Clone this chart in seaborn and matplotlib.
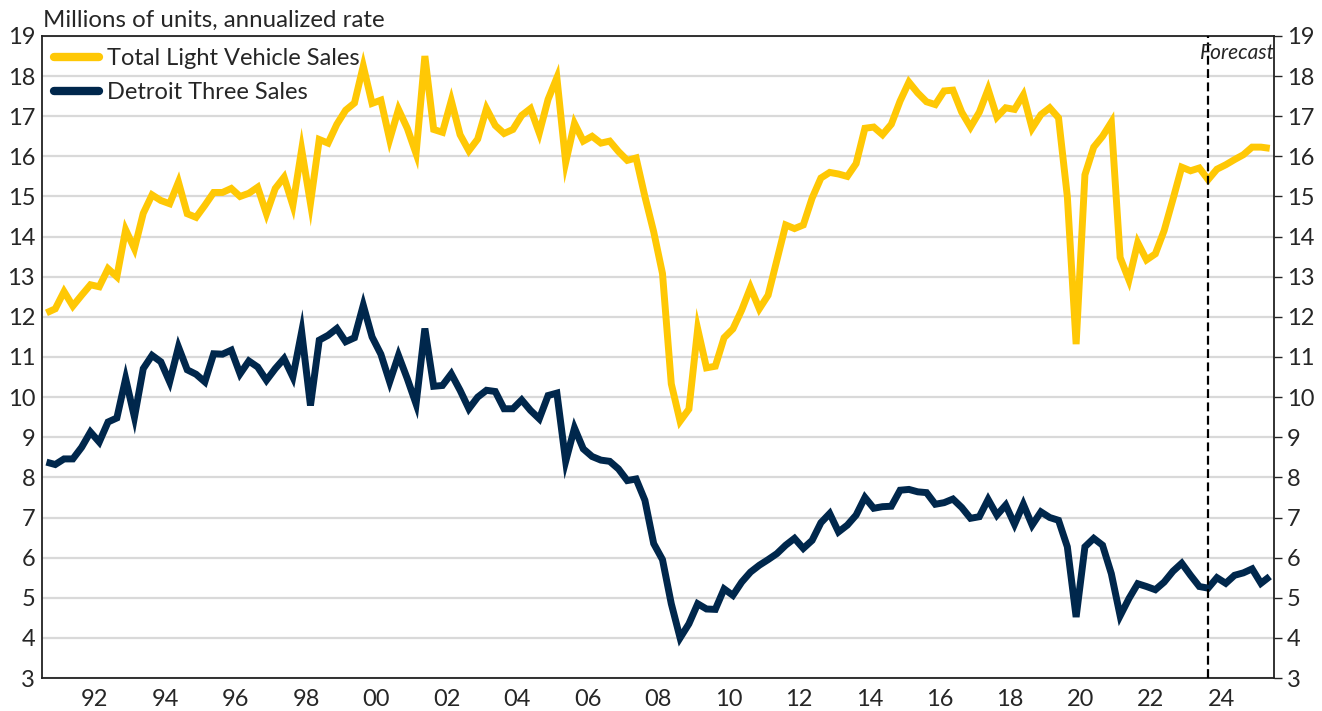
import numpy as np
import pandas as pd
import matplotlib
matplotlib.use("Agg")
import matplotlib.pyplot as plt
import seaborn as sns
from matplotlib.ticker import FixedLocator

# quarterly, 1991Q1 - 2025Q4 (forecast from 2024Q1)
start_year = 1991
forecast_start = 132  # index of 2024Q1

total_sales = [
    12.1, 12.2, 12.63, 12.27, 12.54, 12.8, 12.75, 13.2, 13.0, 14.17,
    13.7, 14.58, 15.04, 14.9, 14.82, 15.36, 14.57, 14.48, 14.78, 15.1,
    15.1, 15.2, 15.0, 15.08, 15.23, 14.57, 15.2, 15.48, 14.78, 16.17,
    14.83, 16.42, 16.33, 16.8, 17.15, 17.33, 18.25, 17.32, 17.4, 16.42,
    17.17, 16.7, 16.07, 18.5, 16.67, 16.6, 17.39, 16.54, 16.14, 16.43,
    17.19, 16.77, 16.57, 16.67, 17.02, 17.19, 16.58, 17.42, 17.96, 15.85,
    16.82, 16.38, 16.5, 16.33, 16.38, 16.12, 15.9, 15.96, 15.0, 14.12,
    13.08, 10.33, 9.4, 9.7, 11.7, 10.73, 10.77, 11.48, 11.7, 12.17,
    12.73, 12.2, 12.54, 13.42, 14.29, 14.2, 14.29, 14.96, 15.46, 15.6,
    15.56, 15.5, 15.82, 16.7, 16.73, 16.54, 16.8, 17.38, 17.85, 17.58,
    17.36, 17.29, 17.63, 17.65, 17.1, 16.73, 17.1, 17.67, 16.98, 17.21,
    17.17, 17.53, 16.7, 17.04, 17.21, 16.96, 15.0, 11.32, 15.54, 16.23,
    16.5, 16.85, 13.48, 12.92, 13.85, 13.42, 13.57, 14.15, 14.93, 15.73,
    15.64, 15.71, 15.42, 15.68, 15.79, 15.92, 16.04, 16.23, 16.23, 16.2,
]

detroit_three = [
    8.38, 8.32, 8.46, 8.46, 8.75, 9.13, 8.88, 9.38, 9.48, 10.46,
    9.5, 10.71, 11.04, 10.88, 10.38, 11.25, 10.68, 10.57, 10.38, 11.08,
    11.07, 11.17, 10.58, 10.9, 10.75, 10.42, 10.71, 10.96, 10.5, 11.63,
    9.79, 11.42, 11.54, 11.71, 11.38, 11.48, 12.29, 11.5, 11.07, 10.38,
    11.04, 10.46, 9.83, 11.71, 10.27, 10.29, 10.58, 10.17, 9.71, 10.0,
    10.17, 10.14, 9.71, 9.71, 9.93, 9.67, 9.46, 10.04, 10.1, 8.4,
    9.23, 8.71, 8.52, 8.43, 8.4, 8.21, 7.92, 7.96, 7.43, 6.35,
    5.95, 4.85, 4.0, 4.35, 4.85, 4.72, 4.71, 5.22, 5.06, 5.39,
    5.64, 5.81, 5.95, 6.1, 6.31, 6.48, 6.23, 6.43, 6.87, 7.1,
    6.64, 6.81, 7.06, 7.5, 7.23, 7.27, 7.28, 7.68, 7.7, 7.64,
    7.62, 7.33, 7.37, 7.46, 7.25, 6.98, 7.02, 7.45, 7.06, 7.31,
    6.83, 7.33, 6.81, 7.14, 7.0, 6.93, 6.27, 4.52, 6.27, 6.48,
    6.31, 5.6, 4.55, 4.98, 5.35, 5.28, 5.2, 5.39, 5.66, 5.86,
    5.56, 5.28, 5.24, 5.5, 5.36, 5.56, 5.62, 5.72, 5.36, 5.53,
]

n = len(total_sales)
t = start_year + (np.arange(n) + 0.5) / 4
df = pd.DataFrame({
    "t": np.concatenate([t, t]),
    "value": total_sales + detroit_three,
    "series": ["Total Light Vehicle Sales"] * n + ["Detroit Three Sales"] * n,
})

sns.set_style("white")
plt.rcParams["font.family"] = ["Lato", "DejaVu Sans"]

fig = plt.figure(figsize=(13.22, 7.11), dpi=100)
ax = fig.add_axes([0.0318, 0.0464, 0.932, 0.903])

sns.lineplot(data=df, x="t", y="value", hue="series",
             palette=["#FFC805", "#00274C"], linewidth=5, ax=ax,
             solid_capstyle="butt", solid_joinstyle="miter")

ax.set_xlim(start_year, start_year + n / 4)
ax.set_ylim(3, 19)
ax.set_yticks(range(3, 20))
ax.yaxis.grid(True, color="#D9D9D9", linewidth=1.6)
ax.set_axisbelow(True)
ax.set_xlabel("")
ax.set_ylabel("")

years = np.arange(start_year + 1, start_year + n // 4 + 1)
ax.xaxis.set_major_locator(FixedLocator(years))
ax.set_xticklabels([])
label_years = np.arange(1992, 2025, 2)
ax.xaxis.set_minor_locator(FixedLocator(label_years + 0.5))
ax.set_xticklabels([f"{y % 100:02d}" for y in label_years], minor=True)
ax.tick_params(axis="x", which="major", direction="in", length=6, width=1, color="#333333")
ax.tick_params(axis="x", which="minor", length=0, labelsize=17, pad=8)
ax.tick_params(axis="y", length=0, labelsize=17, pad=5)

for s in ax.spines.values():
    s.set_color("#222222")
    s.set_linewidth(1.3)

ax2 = ax.twinx()
ax2.set_ylim(3, 19)
ax2.set_yticks(range(3, 20))
ax2.tick_params(axis="y", direction="out", length=6, width=1, labelsize=17, pad=3)
for s in ax2.spines.values():
    s.set_visible(False)

fx = start_year + (forecast_start + 0.5) / 4
ax.axvline(fx, color="black", linestyle=(0, (4, 2)), linewidth=1.6, zorder=3)
ax.text(fx - 0.22, 18.82, "Forecast", style="italic", fontsize=15,
        ha="left", va="top")

leg = ax.legend(loc="upper left", frameon=False, fontsize=17, handlelength=1.9,
                handletextpad=0.35, borderaxespad=0.3, labelspacing=0.55,
                borderpad=0.2)
for line in leg.get_lines():
    line.set_linewidth(6)
    line.set_solid_capstyle("round")

fig.text(0.0325, 0.972, "Millions of units, annualized rate", fontsize=17.3,
         ha="left", va="center")

fig.savefig("out.png", dpi=100)
